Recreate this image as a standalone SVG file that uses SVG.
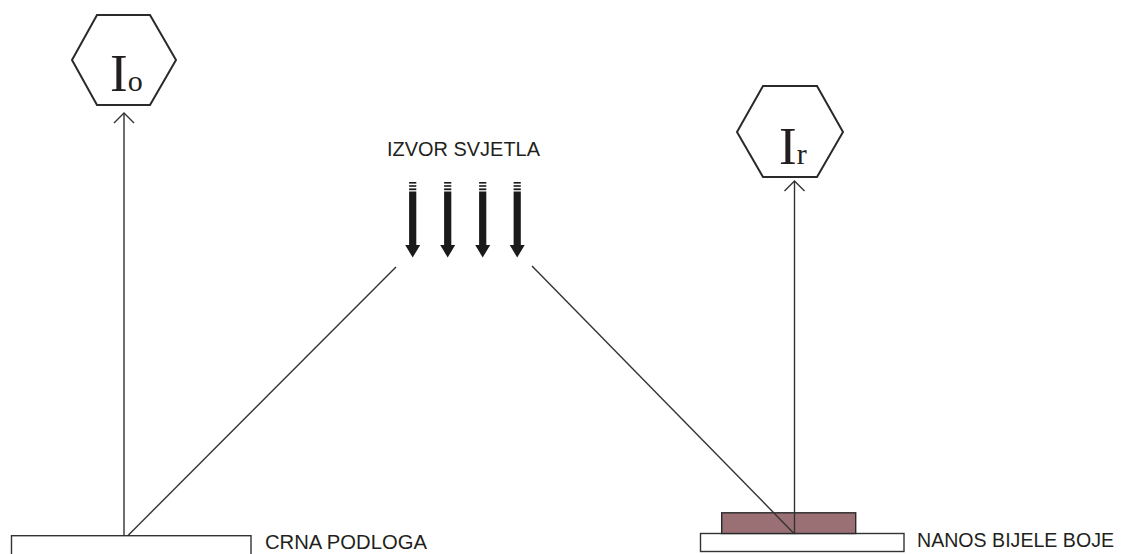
<svg xmlns="http://www.w3.org/2000/svg" width="1122" height="554" viewBox="0 0 1122 554">
<defs>
<style>
.hex{fill:#fff;stroke:#2a2a2a;stroke-width:2}
.ln{fill:none;stroke:#333;stroke-width:1.4}
.lbl{font-family:"Liberation Sans",Arial,sans-serif;font-size:20px;fill:#231f20}
.sym{font-family:"Liberation Serif","Times New Roman",serif;fill:#231f20}
.plate{fill:#fff;stroke:#333;stroke-width:1.4}
.paint{fill:#9b7075;stroke:#2a2a2a;stroke-width:1.4}
.beam{fill:#1a1a1a}
</style>
<marker id="open" viewBox="0 0 12 22" refX="11" refY="11" markerWidth="12" markerHeight="22" markerUnits="userSpaceOnUse" orient="auto">
<path d="M1 1 L11 11 L1 21" fill="none" stroke="#333" stroke-width="1.4"/>
</marker>
<g id="beamShape">
<rect x="-3.6" y="182" width="7.2" height="1.6"/>
<rect x="-3.6" y="185.2" width="7.2" height="1.6"/>
<rect x="-3.6" y="188.4" width="7.2" height="1.8"/>
<rect x="-3.6" y="191.5" width="7.2" height="54"/>
<path d="M-7.5 245 L7.5 245 L0 257.5 Z"/>
</g>
</defs>
<rect width="1122" height="554" fill="#fff"/>

<g id="node-Io">
<polygon class="hex" points="97,15 150,15 176,60 150,105 97,105 72,60"/>
<text class="sym" x="110" y="91" font-size="53">I<tspan font-size="30">o</tspan></text>
</g>

<g id="node-Ir">
<polygon class="hex" points="763,86 817,86 843,132 817,177 763,177 737,132"/>
<text class="sym" x="779" y="164" font-size="53">I<tspan font-size="30">r</tspan></text>
</g>

<g id="node-source">
<text class="lbl" x="387" y="156" textLength="153" lengthAdjust="spacingAndGlyphs">IZVOR SVJETLA</text>
<g class="beam">
<use href="#beamShape" x="412.7"/>
<use href="#beamShape" x="447.7"/>
<use href="#beamShape" x="482.7"/>
<use href="#beamShape" x="517.2"/>
</g>
</g>

<g id="node-crna">
<rect class="plate" x="11.5" y="535.7" width="239.5" height="30"/>
<text class="lbl" x="265" y="548.5" textLength="162" lengthAdjust="spacingAndGlyphs">CRNA PODLOGA</text>
</g>

<g id="node-nanos">
<rect class="plate" x="700.5" y="533.5" width="203.5" height="18"/>
<rect class="paint" x="721.7" y="512.8" width="134" height="20.7"/>
<text class="lbl" x="917" y="547" font-size="19.5" textLength="197" lengthAdjust="spacingAndGlyphs">NANOS BIJELE BOJE</text>
</g>

<g id="connectors">
<line class="ln" x1="124" y1="536" x2="124" y2="113" marker-end="url(#open)"/>
<line class="ln" x1="794.5" y1="534" x2="794.5" y2="181" marker-end="url(#open)"/>
<line class="ln" x1="128" y1="535.5" x2="396" y2="267"/>
<line class="ln" x1="532" y1="266" x2="794.5" y2="534"/>
</g>
</svg>
